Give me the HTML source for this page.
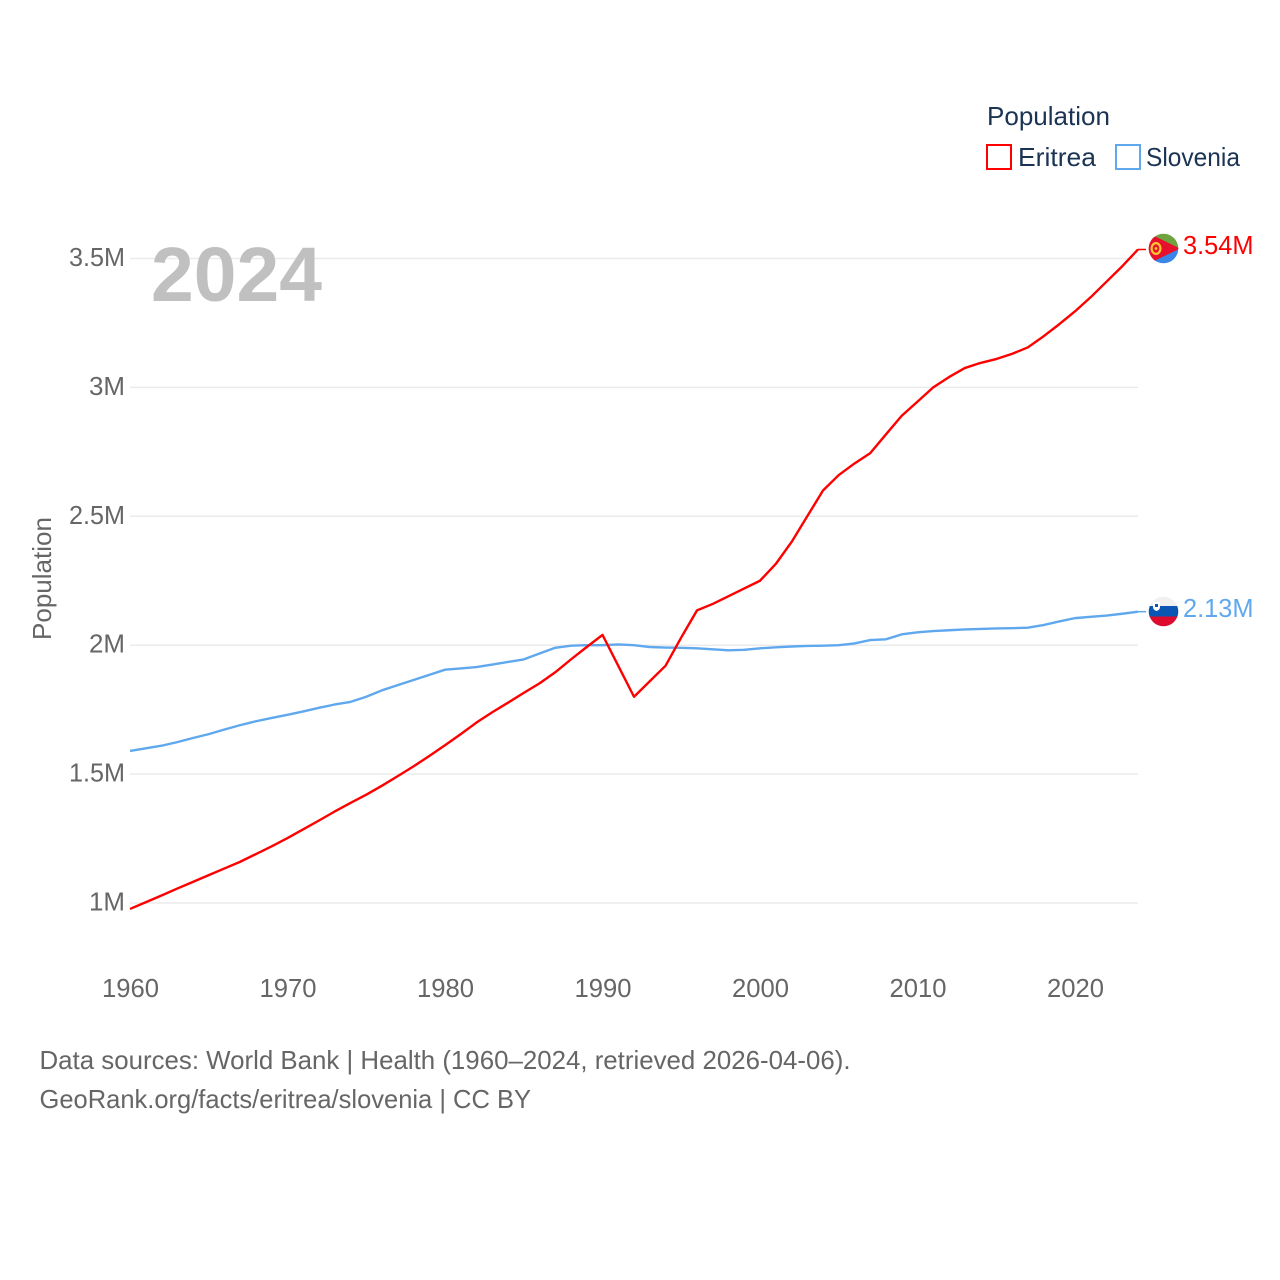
<!DOCTYPE html>
<html lang="en">
<head>
<meta charset="utf-8">
<title>Population: Eritrea vs Slovenia</title>
<style>
html,body{margin:0;padding:0;background:#fff;width:1280px;height:1280px;overflow:hidden}
svg{display:block}
text{font-family:"Liberation Sans",sans-serif}
</style>
</head>
<body>
<svg id="chart" xmlns="http://www.w3.org/2000/svg" width="1280" height="1280" viewBox="0 0 1280 1280">
  <rect x="0" y="0" width="1280" height="1280" fill="#fff"/>
  <g id="grid"></g>
  <text x="151" y="301" font-size="77" font-weight="bold" fill="#c0c0c0" textLength="171" lengthAdjust="spacingAndGlyphs">2024</text>
  <g id="yticks"></g>
  <g id="xticks"></g>
  <text transform="translate(51,640) rotate(-90)" font-size="26" fill="#666" textLength="123" lengthAdjust="spacingAndGlyphs">Population</text>
  <g id="series"></g>

  <g>
    <text x="987" y="125" font-size="26" fill="#1b3454" textLength="123" lengthAdjust="spacingAndGlyphs">Population</text>
    <g>
      <rect x="987" y="145" width="24" height="24" fill="#fff" stroke="#ff0000" stroke-width="2"/>
      <text x="1018" y="166" font-size="26" fill="#1b3454" textLength="78" lengthAdjust="spacingAndGlyphs">Eritrea</text>
    </g>
    <g>
      <rect x="1116" y="145" width="24" height="24" fill="#fff" stroke="#5fa8ee" stroke-width="2"/>
      <text x="1146" y="166" font-size="26" fill="#1b3454" textLength="94" lengthAdjust="spacingAndGlyphs">Slovenia</text>
    </g>
  </g>

  <defs>
    <clipPath id="clip-er"><circle cx="1163.5" cy="248.5" r="14.8"/></clipPath>
    <clipPath id="clip-si"><circle cx="1163.5" cy="611.5" r="14.8"/></clipPath>
  </defs>
  <g clip-path="url(#clip-er)">
    <rect x="1148" y="233" width="32" height="16" fill="#6ea33f"/>
    <rect x="1148" y="248.5" width="32" height="16" fill="#3a86e8"/>
    <polygon points="1148,233 1148,264 1180,248.5" fill="#e8112d"/>
    <ellipse cx="1156" cy="248.500" rx="4.400" ry="5.400" fill="none" stroke="#f6c832" stroke-width="2.200"/>
    <circle cx="1156" cy="248.5" r="1.4" fill="#f6c832"/>
  </g>
  <g clip-path="url(#clip-si)">
    <rect x="1148" y="596" width="32" height="11" fill="#f0f0f0"/>
    <rect x="1148" y="606" width="32" height="11" fill="#0b56b3"/>
    <rect x="1148" y="616.5" width="32" height="11" fill="#dd0c2e"/>
    <path d="M1153 602 h7 v5 q0 3 -3.500 4 q-3.500 -1 -3.500 -4 z" fill="#fff"/>
    <rect x="1155" y="604" width="3" height="3" fill="#0b56b3"/>
  </g>
  <text x="1183" y="254" font-size="26" fill="#ff0000" textLength="70.500" lengthAdjust="spacingAndGlyphs">3.54M</text>
  <text x="1183" y="617" font-size="26" fill="#5fa8ee" textLength="70.500" lengthAdjust="spacingAndGlyphs">2.13M</text>

  <g>
    <text x="39.500" y="1069" font-size="26" fill="#666" textLength="811" lengthAdjust="spacingAndGlyphs">Data sources: World Bank | Health (1960–2024, retrieved 2026-04-06).</text>
    <text x="39.500" y="1108" font-size="26" fill="#666" textLength="491.500" lengthAdjust="spacingAndGlyphs">GeoRank.org/facts/eritrea/slovenia | CC BY</text>
  </g>
</svg>
<script>
const years = [1960,1961,1962,1963,1964,1965,1966,1967,1968,1969,1970,1971,1972,1973,1974,1975,1976,1977,1978,1979,1980,1981,1982,1983,1984,1985,1986,1987,1988,1989,1990,1991,1992,1993,1994,1995,1996,1997,1998,1999,2000,2001,2002,2003,2004,2005,2006,2007,2008,2009,2010,2011,2012,2013,2014,2015,2016,2017,2018,2019,2020,2021,2022,2023,2024];
const eritrea = [0.977,1.003,1.029,1.056,1.082,1.108,1.134,1.16,1.19,1.22,1.252,1.286,1.32,1.355,1.388,1.42,1.455,1.492,1.53,1.57,1.612,1.655,1.70,1.74,1.777,1.815,1.852,1.895,1.945,1.993,2.04,1.92,1.80,1.86,1.92,2.03,2.135,2.16,2.19,2.22,2.25,2.315,2.40,2.50,2.60,2.66,2.705,2.745,2.818,2.89,2.945,3.0,3.04,3.075,3.095,3.11,3.13,3.155,3.198,3.245,3.295,3.35,3.41,3.47,3.535];
const slovenia = [1.59,1.60,1.61,1.624,1.64,1.655,1.673,1.69,1.705,1.718,1.73,1.743,1.757,1.77,1.78,1.80,1.825,1.845,1.865,1.885,1.905,1.91,1.915,1.925,1.935,1.945,1.968,1.99,1.998,2.0,2.0,2.003,2.0,1.993,1.991,1.99,1.988,1.984,1.98,1.982,1.988,1.992,1.995,1.997,1.998,2.0,2.007,2.02,2.023,2.042,2.05,2.055,2.058,2.061,2.063,2.065,2.066,2.068,2.078,2.092,2.105,2.11,2.115,2.122,2.13];
const yTickValues = [1,1.5,2,2.5,3,3.5];
const yTickLabels = ["1M","1.5M","2M","2.5M","3M","3.5M"];
const xTickValues = [1960,1970,1980,1990,2000,2010,2020];

const NS = "http://www.w3.org/2000/svg";
function xScale(yr){ return 130 + (yr - 1960) * (1008 / 64); }
function yScale(v){ return 903 - (v - 1) * 257.8; }
function make(tag, attrs, parent, text){
  const el = document.createElementNS(NS, tag);
  for (const k in attrs) el.setAttribute(k, attrs[k]);
  if (text !== undefined) el.textContent = text;
  parent.appendChild(el);
  return el;
}
const grid = document.getElementById("grid");
const yticks = document.getElementById("yticks");
const xticks = document.getElementById("xticks");
const seriesG = document.getElementById("series");

yTickValues.forEach(function(v, i){
  const y = yScale(v);
  const line = make("line", {x1:130, x2:1138, y1:y, y2:y, stroke:"#ebebeb", "stroke-width":1.5}, grid);
  
  
  const label = yTickLabels[i];
  const t = make("text", {x:125, y:y + 7.5, "font-size":26, fill:"#666", "text-anchor":"end",
    textLength: label.length === 2 ? 36 : 56, lengthAdjust:"spacingAndGlyphs"}, yticks, label);
  
  
});
xTickValues.forEach(function(yr){
  const t = make("text", {x:xScale(yr) + 0.5, y:997, "font-size":26, fill:"#666", "text-anchor":"middle",
    textLength:57, lengthAdjust:"spacingAndGlyphs"}, xticks, String(yr));
  
  
});
function pathFor(vals){
  return vals.map(function(v, i){
    return (i ? "L" : "M") + xScale(years[i]).toFixed(2) + " " + yScale(v).toFixed(2);
  }).join(" ");
}
const sloLine = make("path", {d:pathFor(slovenia), fill:"none", stroke:"#5fa8ee", "stroke-width":2.4, "stroke-linejoin":"round"}, seriesG);


const eriLine = make("path", {d:pathFor(eritrea), fill:"none", stroke:"#ff0000", "stroke-width":2.4, "stroke-linejoin":"round"}, seriesG);


const lastI = years.length - 1;
const sloStub = make("line", {x1:xScale(years[lastI]), x2:1146, y1:yScale(slovenia[lastI]), y2:yScale(slovenia[lastI]), stroke:"#5fa8ee", "stroke-width":1.5}, seriesG);


const eriStub = make("line", {x1:xScale(years[lastI]), x2:1146, y1:yScale(eritrea[lastI]), y2:yScale(eritrea[lastI]), stroke:"#ff0000", "stroke-width":1.5}, seriesG);


</script>
</body>
</html>
